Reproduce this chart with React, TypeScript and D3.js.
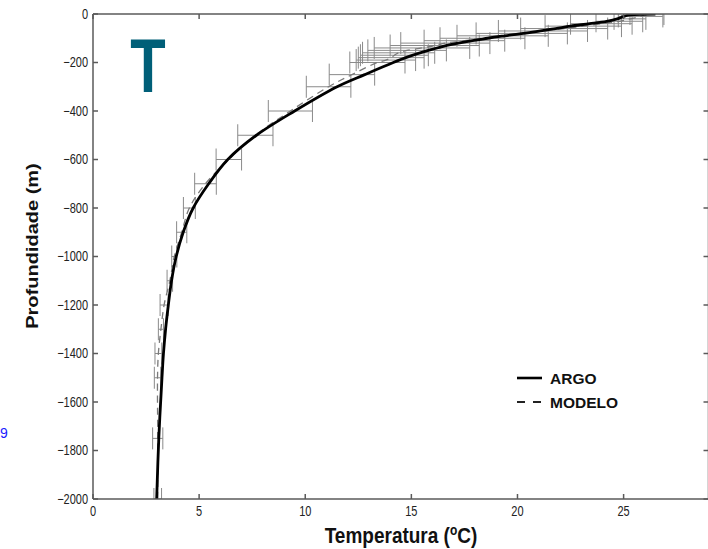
import React, { useEffect } from "react";
import * as d3 from "d3";

// ARGO observed profile (depth m, temperature °C)
const argoDepth = [0, 2, 5, 10, 20, 30, 40, 50, 60, 75, 90, 100, 125, 150, 175, 200, 250, 300, 400, 500, 600, 700, 800, 900, 1000, 1100, 1200, 1300, 1400, 1500, 1750, 2000];
const argoTemp = [26.5, 25.5, 25.2, 25.0, 24.7, 24.2, 23.4, 22.5, 21.8, 20.7, 19.4, 18.6, 16.9, 15.8, 14.9, 14.15, 12.8, 11.5, 9.5, 7.7, 6.35, 5.45, 4.72, 4.25, 3.92, 3.7, 3.55, 3.42, 3.32, 3.25, 3.1, 3.0];

// MODELO profile with error half-widths
const modelDepth = [0, 10, 20, 30, 40, 50, 60, 70, 80, 90, 100, 110, 120, 130, 140, 150, 160, 170, 180, 190, 200, 250, 300, 400, 500, 600, 700, 800, 900, 1000, 1100, 1200, 1300, 1400, 1500, 1750, 2000];
const modelTemp = [26.1, 25.8, 25.3, 24.8, 23.95, 23.1, 22.2, 21.2, 20.2, 19.3, 18.35, 17.5, 16.6, 16.1, 15.5, 14.8, 14.4, 14.2, 14.05, 13.8, 13.4, 12.2, 11.1, 9.3, 7.65, 6.4, 5.3, 4.54, 4.18, 3.83, 3.62, 3.35, 3.2, 3.08, 3.04, 3.05, 3.05];
const modelErr = [0.8, 1.05, 0.75, 1.1, 1.45, 1.8, 2.05, 2.1, 2.15, 2.15, 2.0, 1.9, 2.1, 2.1, 2.25, 1.85, 1.7, 1.6, 1.55, 1.4, 1.3, 1.07, 1.05, 1.04, 0.83, 0.6, 0.51, 0.28, 0.24, 0.12, 0.13, 0.19, 0.12, 0.16, 0.15, 0.24, 0.18];

const xTicks = [0, 5, 10, 15, 20, 25];
const yTicks = [0, -200, -400, -600, -800, -1000, -1200, -1400, -1600, -1800, -2000];
const legendLabels = ["ARGO", "MODELO"];

const W = 708, H = 549;
const L = 93, R = 708.5, T = 14, B = 499;

export default function App() {
  useEffect(() => {
    document.body.style.margin = "0";
  }, []);

  const x = d3.scaleLinear().domain([0, 29]).range([L, R]);
  const y = d3.scaleLinear().domain([0, -2000]).range([T, B]);

  const argo = argoDepth.map((d, i) => [argoTemp[i], -d] as [number, number]);
  const model = modelDepth.map((d, i) => [modelTemp[i], -d] as [number, number]);

  const line = d3
    .line<[number, number]>()
    .x((p) => x(p[0]))
    .y((p) => y(p[1]))
    .curve(d3.curveCatmullRom.alpha(0.5));

  const axisColor = "#5a5a5a";
  const barColor = "#8a8a8a";
  const capH = 11;
  const fmt = (v: number) => (v < 0 ? "\u2212" + Math.abs(v) : String(v));
  const font = "'Liberation Sans', Arial, Helvetica, sans-serif";

  return (
    <svg width={W} height={H} style={{ position: "absolute", left: 0, top: 0, background: "#fff" }} fontFamily={font}>
      <defs>
        <clipPath id="plotclip">
          <rect x={L} y={T} width={R - L} height={B - T} />
        </clipPath>
      </defs>

      {/* error bars */}
      <g clipPath="url(#plotclip)" stroke={barColor} strokeWidth={1} fill="none">
        {modelDepth.map((d, i) => {
          const yy = y(-d);
          const x1 = x(modelTemp[i] - modelErr[i]);
          const x2 = x(modelTemp[i] + modelErr[i]);
          return (
            <g key={i}>
              <line x1={x1} x2={x2} y1={yy} y2={yy} />
              <line x1={x1} x2={x1} y1={yy - capH} y2={yy + capH} />
              <line x1={x2} x2={x2} y1={yy - capH} y2={yy + capH} />
            </g>
          );
        })}
      </g>

      {/* model dashed */}
      <path d={line(model) || ""} fill="none" stroke="#7a7a7a" strokeWidth={1.3} strokeDasharray="7,5" clipPath="url(#plotclip)" />
      {/* argo solid */}
      <path d={line(argo) || ""} fill="none" stroke="#000" strokeWidth={2.8} strokeLinejoin="round" clipPath="url(#plotclip)" />

      {/* frame */}
      <g stroke={axisColor} strokeWidth={1.5} fill="none">
        <line x1={L} x2={R} y1={T} y2={T} />
        <line x1={L} x2={R} y1={B} y2={B} />
        <line x1={L} x2={L} y1={T} y2={B} />
        <line x1={R} x2={R} y1={T} y2={B} />
        {xTicks.map((v) => (
          <g key={"xt" + v}>
            <line x1={x(v)} x2={x(v)} y1={B} y2={B - 5} />
            <line x1={x(v)} x2={x(v)} y1={T} y2={T + 5} />
          </g>
        ))}
        {yTicks.map((v) => (
          <g key={"yt" + v}>
            <line x1={L} x2={L + 5} y1={y(v)} y2={y(v)} />
            <line x1={R} x2={R - 5} y1={y(v)} y2={y(v)} />
          </g>
        ))}
      </g>

      {/* tick labels */}
      <g fill="#222" fontSize={11}>
        {xTicks.map((v) => (
          <text key={"xl" + v} transform={`translate(${x(v)},516) scale(1,1.25)`} textAnchor="middle">
            {fmt(v)}
          </text>
        ))}
        {yTicks.map((v) => (
          <text key={"yl" + v} transform={`translate(88,${y(v) + 4.5}) scale(1,1.25)`} textAnchor="end">
            {fmt(v)}
          </text>
        ))}
      </g>

      {/* axis titles */}
      <text transform={`translate(401,543) scale(1,1.15)`} textAnchor="middle" fontSize={19} fontWeight="bold" fill="#111">
        Temperatura (<tspan fontSize={12} dy={-7}>o</tspan><tspan dy={7}>C)</tspan>
      </text>
      <text transform={`translate(38,246) rotate(-90) scale(1.25,1)`} textAnchor="middle" fontSize={16} fontWeight="bold" fill="#111">
        Profundidade (m)
      </text>

      {/* big T label */}
      <text transform={`translate(148,92) scale(1,1.3)`} textAnchor="middle" fontSize={58} fontWeight="bold" fill="#005f78">
        T
      </text>

      {/* legend */}
      <g>
        <line x1={517} x2={542} y1={378} y2={378} stroke="#000" strokeWidth={2.6} />
        <line x1={517} x2={542} y1={402} y2={402} stroke="#222" strokeWidth={2} strokeDasharray="8,8" />
        <text x={550} y={384} fontSize={15.5} fontWeight="bold" fill="#111">{legendLabels[0]}</text>
        <text x={550} y={408} fontSize={15.5} fontWeight="bold" fill="#111">{legendLabels[1]}</text>
      </g>

      {/* stray blue label */}
      <text x={0} y={438} fontSize={14} fill="#1a1aff">9</text>
    </svg>
  );
}
